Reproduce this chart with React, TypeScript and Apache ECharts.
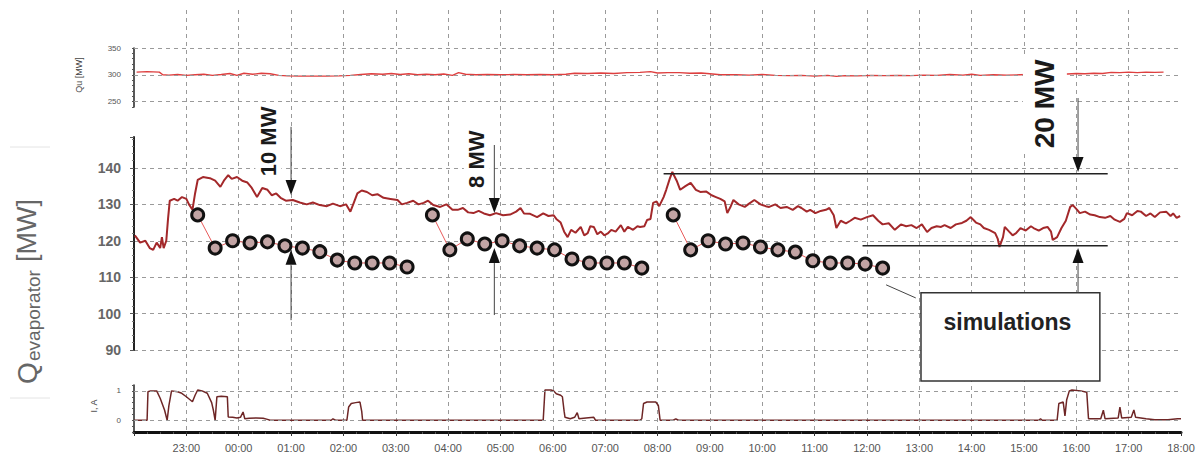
import React, { useEffect, useRef } from "react";
import * as echarts from "echarts";

// x values are minutes after 22:00
const HOUR_LABELS = ["22:00","23:00","00:00","01:00","02:00","03:00","04:00","05:00","06:00","07:00","08:00","09:00","10:00","11:00","12:00","13:00","14:00","15:00","16:00","17:00","18:00"];

const quSeries: [number, number][] = [
  [3,305],[15,306],[29,305],[33,300],[40,299.5],[50,300.5],[60,299],[70,300],[80,301],[90,299],[100,300.5],[110,302.5],[118,299],[126,303],[136,301],[146,303],[156,302],[166,299],[176,298],[190,297.5],[205,297.5],[220,297.5],[235,298],[248,299],[260,300.5],[272,302],[285,301],[295,302.5],[305,300.5],[315,302],[325,300],[335,301],[345,300],[355,301.5],[365,299],[372,304],[380,301],[392,300],[405,300.5],[420,300],[435,300.5],[450,300],[465,300.5],[480,300],[495,301],[505,303],[520,302.5],[535,303.5],[550,302.5],[565,304],[580,304.5],[592,306],[600,303.5],[612,304],[625,304],[637,303],[650,303.5],[660,302],[672,300],[690,300],[705,299.5],[720,300.5],[735,299],[750,298.5],[765,299],[780,297.5],[795,299],[805,297],[815,298.5],[830,298],[845,299],[860,298.5],[875,299],[890,298.5],[905,299.5],[920,299],[935,300.5],[950,299.5],[960,301],[970,299],[985,300],[1000,299.5],[1015,300],[1030,300.5],[1045,301],[1060,302],[1070,301.5],[1080,302.5],[1090,302],[1100,303],[1110,302.5],[1120,304.5],[1130,304],[1140,305],[1150,304],[1160,305],[1170,304.5],[1180,305]
];

const qEvapMeasured: [number, number][] = [
  [1,121.5],[7,119.5],[13,120],[18,118],[22,117.5],[26,119.5],[30,118],[32,121],[34,118],[37,120],[39,126],[41,131],[46,131.5],[50,131],[55,132],[60,131.5],[63,130],[67,128.5],[70,133],[73,136.7],[79,137.5],[87,137.2],[93,136.5],[99,134.8],[103,136.5],[108,138],[112,137],[118,137.5],[124,136.5],[130,136],[135,134.5],[141,132],[147,134.5],[153,134],[158,132.5],[163,133],[168,131.8],[174,131],[182,131.2],[190,130.5],[198,130],[205,130.5],[213,129.8],[221,129.5],[228,130.2],[236,129.5],[243,130],[248,128],[252,130.5],[256,133],[261,133.8],[267,133.4],[273,132.5],[279,132.8],[286,131.8],[294,131.5],[302,131.2],[307,130],[313,130.4],[320,131],[326,130],[332,130.4],[337,131],[343,129.8],[351,129.3],[358,130],[365,128.5],[371,128.5],[377,129],[383,127.8],[389,127.6],[395,128.2],[401,127.5],[408,127],[415,127.6],[423,127],[431,127.2],[438,128],[443,129],[447,127.5],[454,127.4],[462,126.5],[469,127.5],[475,126.8],[481,127],[484,126],[489,125],[493,122.5],[497,121],[501,123],[506,122.2],[512,123.8],[516,121.5],[520,122.1],[523,124],[527,123.8],[531,121.8],[535,122.5],[539,121.5],[543,122],[547,123],[552,122.5],[558,124.3],[562,122.5],[566,123.8],[572,123],[577,124],[580,123.8],[585,124],[588,125.7],[592,126],[595,130.4],[599,130.8],[602,129.5],[607,132],[610,134],[614,137],[617,138.9],[622,136.5],[626,134],[632,135],[638,135.9],[644,134],[649,133.4],[656,133.5],[662,132.5],[667,132],[672,131.5],[677,130.8],[680,127.6],[684,129.5],[687,131.2],[693,130],[700,129.3],[705,130.2],[711,131.2],[718,130],[724,129.5],[728,129.3],[735,130],[741,129],[748,129.3],[755,128.5],[761,129.5],[765,129],[771,128],[775,128.5],[781,127.6],[787,128.2],[793,128.5],[797,129],[802,127],[805,123.5],[810,125.5],[816,124.8],[821,125.5],[826,126.3],[833,125.8],[840,126.5],[847,127],[853,125.5],[858,124.5],[865,124.8],[872,123],[879,124.5],[885,124],[891,124.3],[897,123.5],[903,124.5],[909,122.4],[914,123.5],[920,124],[925,123.8],[929,124.3],[936,123.5],[942,124.5],[949,124.9],[954,125.5],[959,126.5],[965,125],[970,124.5],[974,123.5],[980,123],[987,122.1],[990,120.5],[992,118.3],[996,121],[998,123.8],[1003,122.5],[1007,121.5],[1011,122.1],[1016,123.5],[1022,122.8],[1028,124],[1031,123.5],[1037,122.8],[1042,123.5],[1047,123.8],[1051,122.5],[1053,120.2],[1058,121],[1063,123.5],[1068,125.5],[1073,129.3],[1076,129.8],[1081,128.5],[1084,127.6],[1090,128],[1096,127.2],[1101,127],[1107,126.5],[1113,126.3],[1119,126.8],[1124,125.8],[1130,125.2],[1135,126],[1138,127.6],[1144,127],[1150,128.2],[1154,128],[1160,126.8],[1165,127.5],[1170,126.5],[1176,127.8],[1183,128],[1188,126.8],[1191,127.5],[1195,126.3],[1199,126.8]
];

const simulation1: [number, number][] = [
  [73,127.1],[93,118],[113,120],[133,119.4],[153,119.7],[173,118.6],[193,118],[213,117],[233,114.7],[253,113.9],[273,113.9],[293,113.9],[313,112.8]
];
const simulation2: [number, number][] = [
  [342,127.1],[362,117.5],[382,120.5],[402,119.1],[422,120],[442,118.6],[462,118],[482,117.5],[502,115],[522,113.9],[542,113.9],[562,113.9],[582,112.5]
];
const simulation3: [number, number][] = [
  [618,127.1],[638,117.5],[658,120],[678,119.1],[698,119.4],[718,118.3],[738,117.5],[758,116.9],[778,114.5],[798,113.9],[818,113.9],[838,113.6],[858,112.5]
];

const currentIA: [number, number][] = [
  [0,0],[15,0],[16,0.97],[19,1.0],[26,1.0],[30,0.75],[35,0.35],[38,0],[40,0.5],[43,1.0],[50,0.97],[54,0.93],[60,0.8],[67,0.63],[70,0.85],[73,1.03],[78,1.0],[84,0.92],[89,0.6],[91,0.34],[93,0],[95,0.8],[100,0.82],[107,0.8],[108,0.11],[113,0.1],[118,0.08],[122,0.1],[125,0.28],[127,0.05],[132,0.07],[140,0.08],[148,0.07],[153,0.03],[156,0],[226,0],[228,0.05],[231,0],[244,0],[246,0.45],[249,0.57],[254,0.6],[259,0.62],[261,0.3],[262,0],
  [469,0],[471,1.03],[478,1.03],[481,1.0],[484,0.9],[489,0.85],[491,0.8],[493,0.3],[494,0.1],[500,0.05],[505,0.1],[508,0.26],[510,0.05],[518,0.08],[527,0.1],[529,0],[580,0],[582,0.05],[584,0.57],[588,0.62],[598,0.62],[601,0.5],[603,0],[618,0],[621,0.05],[624,0],
  [1037,0],[1039,0.05],[1041,0],[1058,0],[1060,0.57],[1065,0.62],[1067,0.15],[1069,0.7],[1072,1.0],[1075,1.03],[1085,1.0],[1092,0.95],[1094,0.05],[1108,0.05],[1111,0.34],[1113,0.05],[1128,0.08],[1130,0.45],[1132,0.08],[1143,0.1],[1146,0.35],[1148,0.1],[1160,0.05],[1170,0.02],[1185,0.02],[1196,0.05],[1200,0.05]
];

// annotations, in main-panel data coordinates [minute, MW]
const annotationLabels = [
  { text: "10 MW", at: [154, 147.3] as [number, number], size: 22, pad: [2, 3] },
  { text: "8 MW", at: [393, 142.4] as [number, number], size: 22, pad: [2, 3] },
  { text: "20 MW", at: [1044, 157.6] as [number, number], size: 28, pad: [8, 5] },
];
const arrows: { x: number; from: number; tip: number }[] = [
  { x: 180, from: 151.3, tip: 132.6 },
  { x: 180, from: 98.2, tip: 117.5 },
  { x: 413, from: 146.3, tip: 127.6 },
  { x: 413, from: 99.6, tip: 118 },
  { x: 1082, from: 159.2, tip: 138.9 },
  { x: 1082, from: 105.7, tip: 118 },
];
const levelLines: { from: number; to: number; y: number }[] = [
  { from: 607, to: 1116, y: 138.4 },
  { from: 835, to: 1116, y: 118.6 },
];
const simBox = { x0: 902, x1: 1107, y0: 105.7, y1: 81.5, label: "simulations", labelAt: [1001, 97.6] as [number, number] };
const leader = { from: [862, 107.9] as [number, number], to: [896, 104.3] as [number, number] };

const GRID_COLOR = "#9a9a9a";

export default function App() {
  const ref = useRef<HTMLDivElement>(null);
  useEffect(() => {
    if (!ref.current) return;
    const chart = echarts.init(ref.current, undefined, { renderer: "svg" });
    const xBase = { type: "value" as const, min: 0, max: 1200, interval: 60 };
    const hidden = { ...xBase, show: false };
    const dashed = { color: GRID_COLOR, type: [4, 4] as any, width: 1 };
    const hMark = (vals: number[]) => ({
      silent: true,
      symbol: "none",
      label: { show: false },
      lineStyle: dashed,
      data: vals.map((v) => ({ yAxis: v })),
      animation: false,
    });
    const simSeries = (data: [number, number][]) => ({
      type: "line",
      xAxisIndex: 1,
      yAxisIndex: 1,
      data,
      symbol: "circle",
      symbolSize: 12,
      lineStyle: { color: "#e85a5a", width: 1 },
      itemStyle: { color: "#c2a4a4", borderColor: "#111", borderWidth: 3 },
      z: 5,
    });
    const option: any = {
      animation: false,
      backgroundColor: "#fff",
      grid: [
        { left: 134, right: 22, top: 48, height: 59 },
        { left: 134, right: 22, top: 137, height: 213 },
        { left: 134, right: 22, top: 385, height: 47 },
        { left: 134, right: 22, top: 10, height: 422 },
      ],
      xAxis: [
        { ...hidden, gridIndex: 0 },
        { ...hidden, gridIndex: 1 },
        {
          ...xBase,
          gridIndex: 2,
          axisLine: { show: true, onZero: false, lineStyle: { color: "#111", width: 3 } },
          axisTick: { show: true, length: 4, lineStyle: { color: "#333" } },
          minorTick: { show: true, splitNumber: 4, length: 2, lineStyle: { color: "#555" } },
          splitLine: { show: false },
          axisLabel: {
            margin: 10,
            fontSize: 11,
            color: "#555",
            fontFamily: "Liberation Sans, Arial, sans-serif",
            formatter: (v: number) => {
              const i = Math.round(v / 60);
              return i === 0 ? "" : HOUR_LABELS[i] ?? "";
            },
          },
        },
        {
          ...xBase,
          gridIndex: 3,
          axisLine: { show: false },
          axisTick: { show: false },
          axisLabel: { show: false },
          splitLine: { show: true, showMinLine: false, showMaxLine: false, lineStyle: dashed },
        },
      ],
      yAxis: [
        {
          type: "value",
          gridIndex: 0,
          min: 240,
          max: 350,
          interval: 10,
          offset: 9,
          axisLine: { show: true, lineStyle: { color: "#222", width: 1.5 } },
          axisTick: { show: true, length: 2, lineStyle: { color: "#555" } },
          splitLine: { show: false },
          axisLabel: {
            fontSize: 8,
            color: "#555",
            margin: 4,
            formatter: (v: number) => (v % 50 === 0 ? String(v) : ""),
          },
        },
        {
          type: "value",
          gridIndex: 1,
          min: 90,
          max: 148.5,
          interval: 10,
          offset: 9,
          axisLine: { show: true, lineStyle: { color: "#222", width: 2 } },
          axisTick: { show: true, length: 4, lineStyle: { color: "#555" } },
          minorTick: { show: true, splitNumber: 5, length: 2, lineStyle: { color: "#777" } },
          splitLine: { show: true, showMaxLine: false, lineStyle: dashed },
          axisLabel: {
            fontSize: 14,
            fontWeight: "bold",
            color: "#666",
            margin: 4,
            fontFamily: "Liberation Sans, Arial, sans-serif",
            formatter: (v: number) => (Math.abs(v % 10) < 1e-6 ? String(v) : ""),
          },
        },
        {
          type: "value",
          gridIndex: 2,
          min: -0.4,
          max: 1.2,
          interval: 0.2,
          offset: 9,
          axisLine: { show: true, lineStyle: { color: "#222", width: 1.5 } },
          axisTick: { show: true, length: 2, lineStyle: { color: "#555" } },
          splitLine: { show: false },
          axisLabel: {
            fontSize: 8,
            color: "#555",
            margin: 4,
            formatter: (v: number) => (Math.abs(v - 1) < 1e-6 ? "1" : Math.abs(v) < 1e-6 ? "0" : ""),
          },
        },
        { type: "value", gridIndex: 3, min: 0, max: 1, show: false },
      ],
      series: [
        {
          type: "line",
          xAxisIndex: 0,
          yAxisIndex: 0,
          data: quSeries,
          showSymbol: false,
          symbol: "none",
          lineStyle: { color: "#de3f3f", width: 1.4 },
          markLine: hMark([250, 300, 350]),
          z: 3,
        },
        {
          type: "line",
          xAxisIndex: 1,
          yAxisIndex: 1,
          data: qEvapMeasured,
          showSymbol: false,
          symbol: "none",
          lineStyle: { color: "#a3282a", width: 2 },
          z: 3,
        },
        simSeries(simulation1),
        simSeries(simulation2),
        simSeries(simulation3),
        {
          type: "line",
          xAxisIndex: 2,
          yAxisIndex: 2,
          data: currentIA,
          showSymbol: false,
          symbol: "none",
          lineStyle: { color: "#6e2626", width: 1.5 },
          markLine: hMark([0, 1]),
          z: 3,
        },
      ],
    };
    chart.setOption(option);

    const px = (p: [number, number]) => chart.convertToPixel({ gridIndex: 1 }, p) as number[];
    const g: any[] = [];
    // left axis titles
    g.push(
      { type: "text", x: 27, y: 384, rotation: Math.PI / 2, z: 60,
        style: { text: "Q", font: "28px 'Liberation Sans', Arial, sans-serif", fill: "#666", align: "left", verticalAlign: "middle" } },
      { type: "text", x: 33, y: 361, rotation: Math.PI / 2, z: 60,
        style: { text: "evaporator", font: "19px 'Liberation Sans', Arial, sans-serif", fill: "#666", align: "left", verticalAlign: "middle" } },
      { type: "text", x: 27, y: 262, rotation: Math.PI / 2, z: 60,
        style: { text: "[MW]", font: "27px 'Liberation Sans', Arial, sans-serif", fill: "#666", align: "left", verticalAlign: "middle" } },
      { type: "text", x: 79, y: 75, rotation: Math.PI / 2, z: 60,
        style: { text: "Qu [MW]", font: "9px 'Liberation Sans', Arial, sans-serif", fill: "#444", align: "center", verticalAlign: "middle" } },
      { type: "text", x: 94, y: 406, rotation: Math.PI / 2, z: 60,
        style: { text: "I, A", font: "9px 'Liberation Sans', Arial, sans-serif", fill: "#444", align: "center", verticalAlign: "middle" } },
      { type: "line", z: 1, shape: { x1: 10, y1: 147, x2: 50, y2: 147 }, style: { stroke: "#e4e4e4", lineWidth: 1 } },
      { type: "line", z: 1, shape: { x1: 10, y1: 398, x2: 50, y2: 398 }, style: { stroke: "#e4e4e4", lineWidth: 1 } }
    );
    // simulations box + leader
    const b0 = px([simBox.x0, simBox.y0]);
    const b1 = px([simBox.x1, simBox.y1]);
    g.push({ type: "rect", z: 40, shape: { x: b0[0], y: b0[1], width: b1[0] - b0[0], height: b1[1] - b0[1] },
      style: { fill: "#fff", stroke: "#333", lineWidth: 1.5 } });
    const bl = px(simBox.labelAt);
    g.push({ type: "text", z: 41, x: bl[0], y: bl[1],
      style: { text: simBox.label, font: "bold 23px 'Liberation Sans', Arial, sans-serif", fill: "#222", align: "center", verticalAlign: "middle" } });
    const l0 = px(leader.from), l1 = px(leader.to);
    g.push({ type: "line", z: 40, shape: { x1: l0[0], y1: l0[1], x2: l1[0], y2: l1[1] }, style: { stroke: "#444", lineWidth: 1 } });
    // level lines
    levelLines.forEach((L) => {
      const a = px([L.from, L.y]), c = px([L.to, L.y]);
      g.push({ type: "line", z: 42, shape: { x1: a[0], y1: a[1], x2: c[0], y2: c[1] }, style: { stroke: "#222", lineWidth: 1.5 } });
    });
    // labels
    annotationLabels.forEach((A) => {
      const p = px(A.at);
      g.push({ type: "text", z: 44, x: p[0], y: p[1], rotation: Math.PI / 2,
        style: { text: A.text, font: `bold ${A.size}px 'Liberation Sans', Arial, sans-serif`, fill: "#1a1a1a",
          align: "center", verticalAlign: "middle", backgroundColor: "#fff", padding: A.pad } });
    });
    // arrows (drawn above labels)
    arrows.forEach((A) => {
      const s = px([A.x, A.from]), t = px([A.x, A.tip]);
      const dir = t[1] > s[1] ? 1 : -1;
      const headH = 15, headW = 5.5;
      const baseY = t[1] - dir * headH;
      g.push({ type: "line", z: 46, shape: { x1: s[0], y1: s[1], x2: s[0], y2: baseY }, style: { stroke: "#444", lineWidth: 1 } });
      g.push({ type: "polygon", z: 46, shape: { points: [[t[0] - headW, baseY], [t[0] + headW, baseY], [t[0], t[1]]] }, style: { fill: "#111" } });
    });
    chart.setOption({ graphic: g });
    return () => chart.dispose();
  }, []);
  return <div ref={ref} style={{ position: "fixed", left: 0, top: 0, width: 1203, height: 461 }} />;
}
